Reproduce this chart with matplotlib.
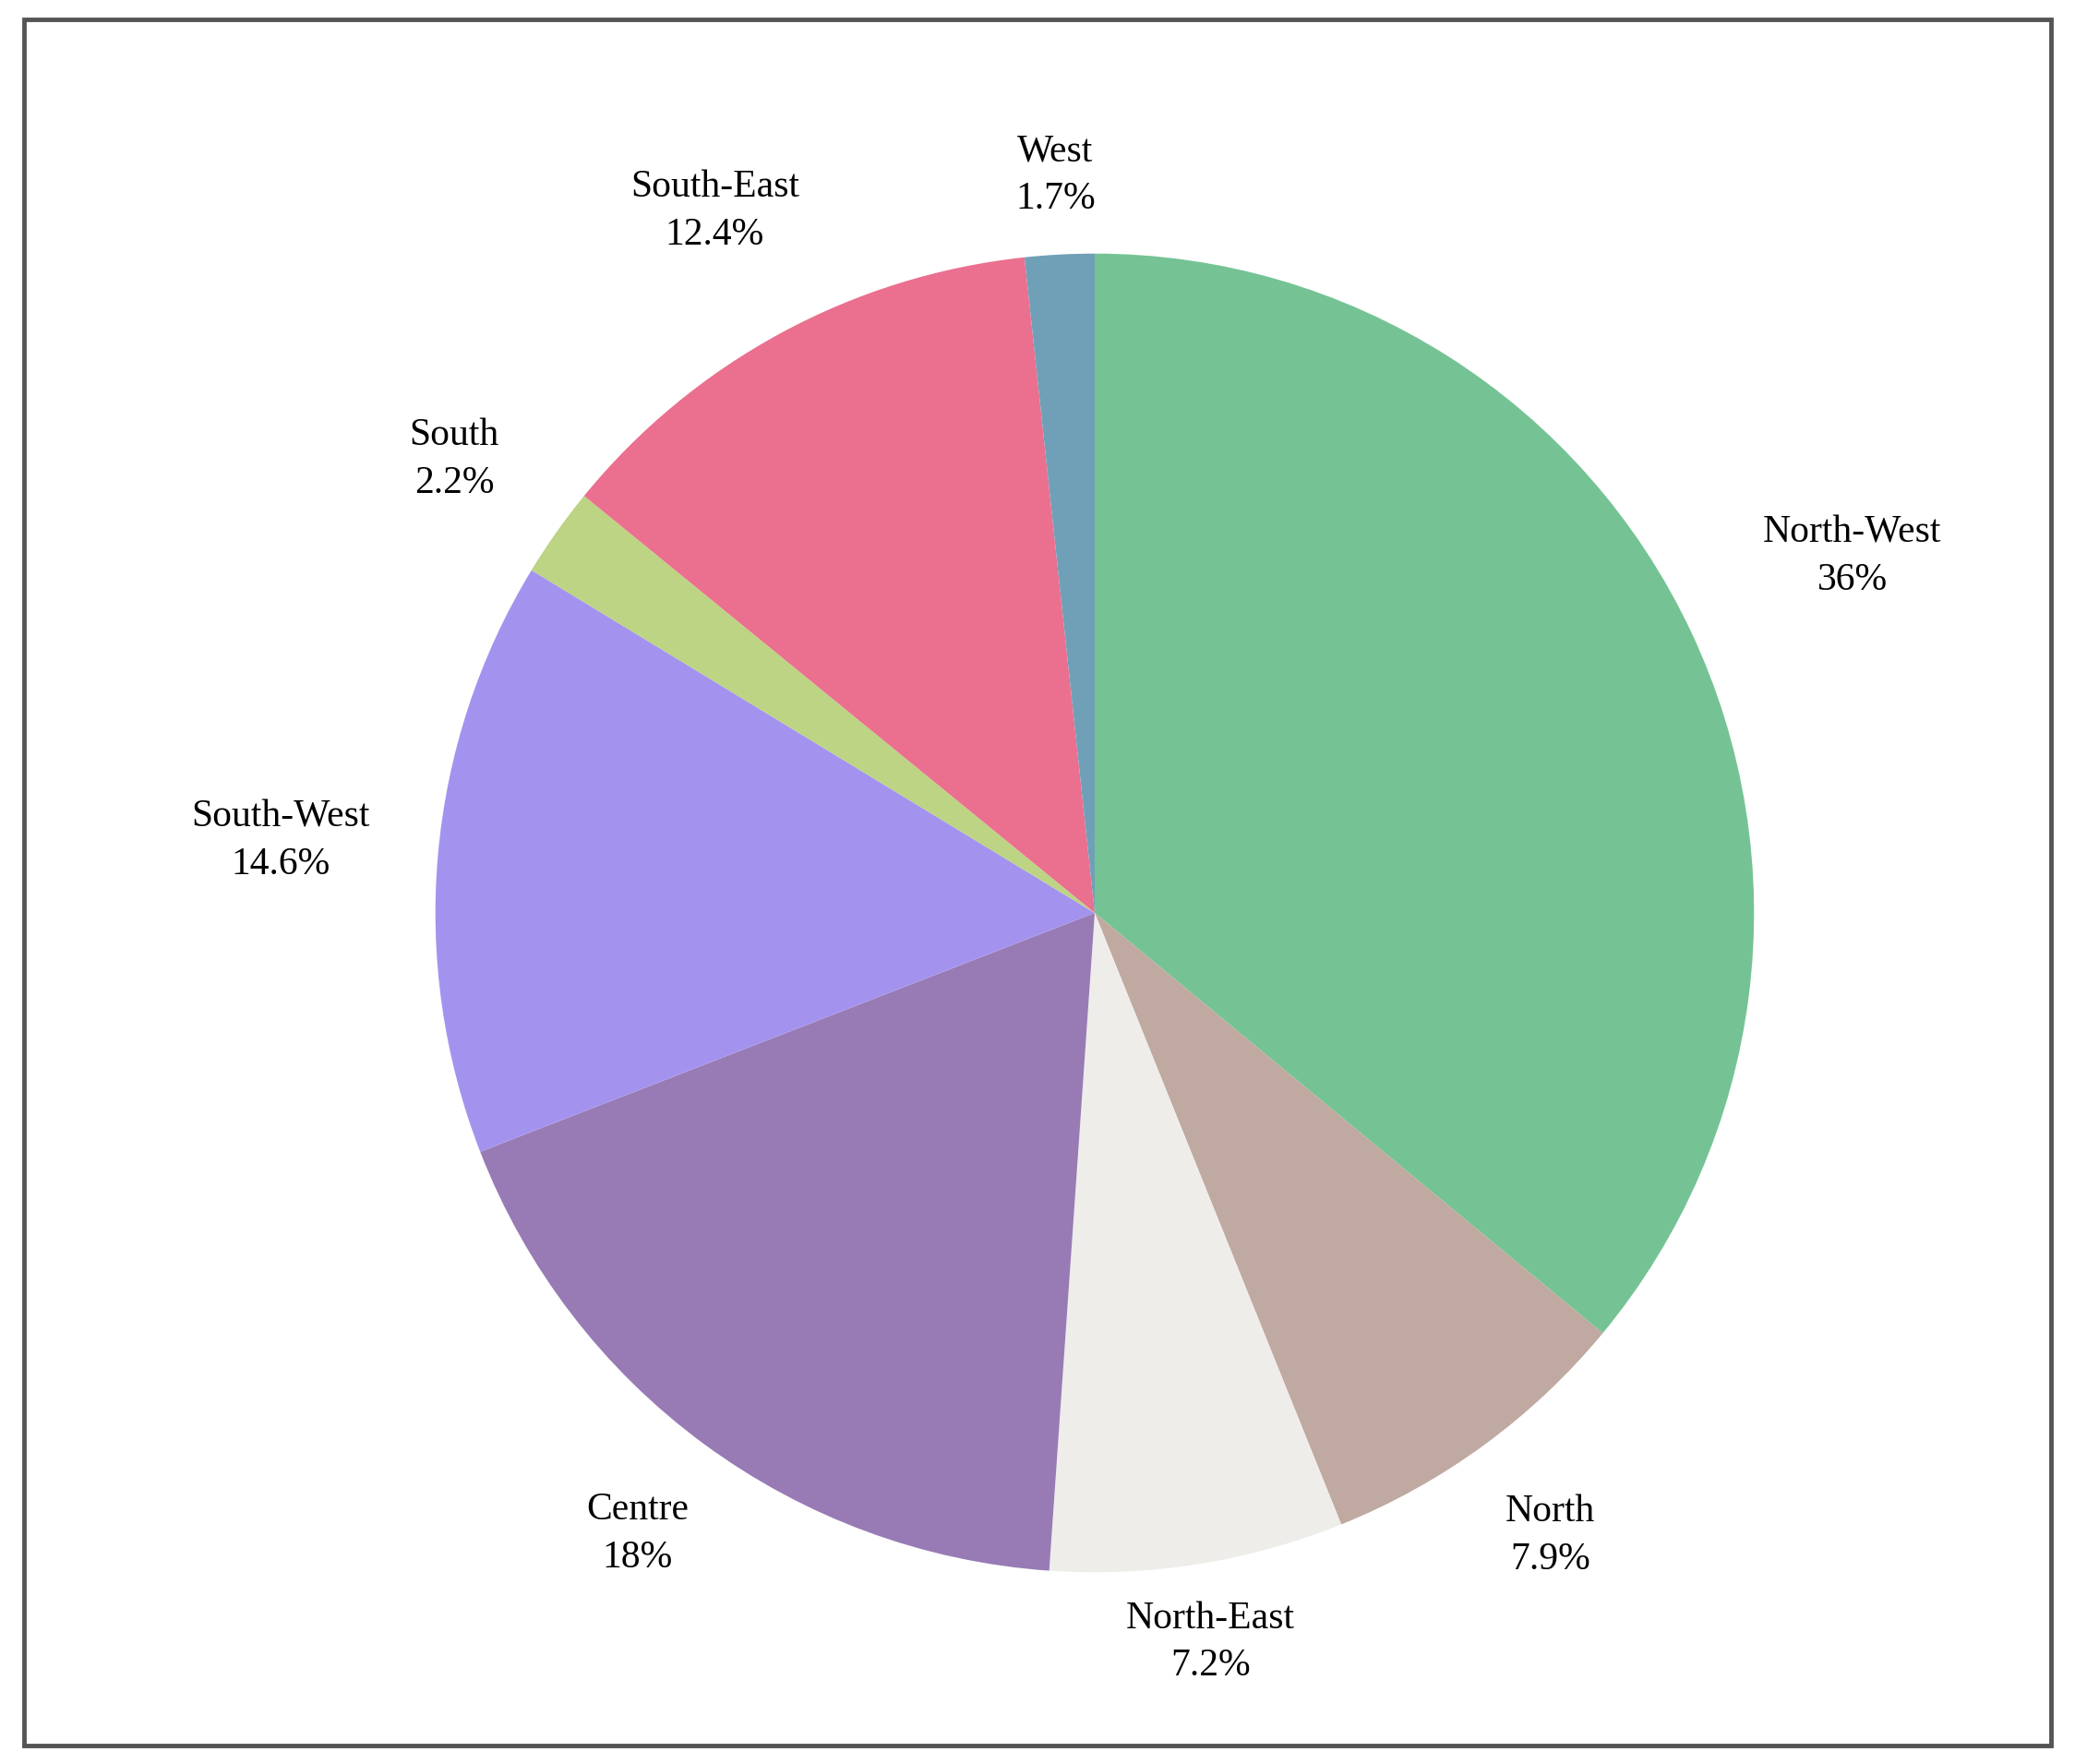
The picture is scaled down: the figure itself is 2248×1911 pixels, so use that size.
import matplotlib
matplotlib.use("Agg")
import matplotlib.pyplot as plt
import numpy as np
from matplotlib.patches import Rectangle

labels = ["North-West", "North", "North-East", "Centre", "South-West", "South", "South-East", "West"]
values = [36, 7.9, 7.2, 18, 14.6, 2.2, 12.4, 1.7]
pct_text = ["36%", "7.9%", "7.2%", "18%", "14.6%", "2.2%", "12.4%", "1.7%"]
colors = ["#75c394", "#c0a9a0", "#eeedea", "#987bb5", "#a493ee", "#bcd483", "#eb6f8f", "#70a0b8"]
label_dist = [1.27, 1.17, 1.12, 1.17, 1.24, 1.19, 1.21, 1.12]

fig = plt.figure(figsize=(22.48, 19.11), dpi=100)
fig.patch.set_facecolor("white")
fig.add_artist(Rectangle((0.0115, 0.0105), 0.977, 0.9785, transform=fig.transFigure,
                         fill=False, edgecolor="#555555", linewidth=3.5))

ax = fig.add_axes([(1186 - 1000) / 2248, (922 - 1000) / 1911, 2000 / 2248, 2000 / 1911])
wedges, _ = ax.pie(values, colors=colors, startangle=90, counterclock=False,
                   wedgeprops=dict(linewidth=0))
ax.set_xlim(-1.4, 1.4)
ax.set_ylim(-1.4, 1.4)
ax.set_aspect("equal")
ax.axis("off")

for w, lab, pt, d in zip(wedges, labels, pct_text, label_dist):
    ang = np.deg2rad((w.theta1 + w.theta2) / 2)
    x, y = d * np.cos(ang), d * np.sin(ang)
    ax.text(x, y, f"{lab}\n{pt}", ha="center", va="center", fontsize=30,
            family="Liberation Serif", linespacing=1.45, clip_on=False)

fig.savefig("out.png", dpi=100)
